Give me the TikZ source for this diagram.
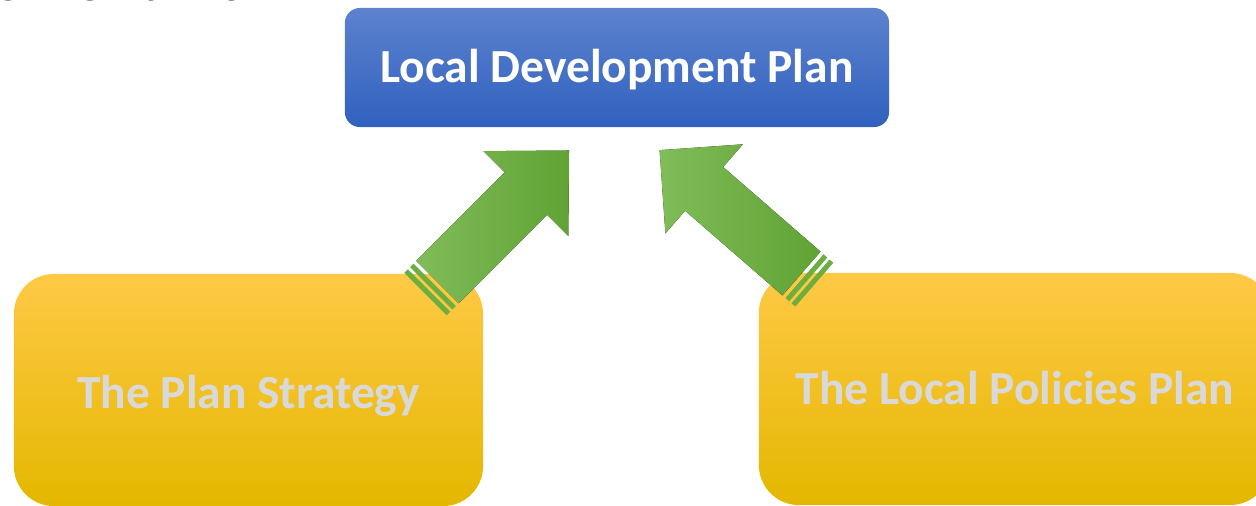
\documentclass[tikz,border=0pt]{standalone}
\usepackage{fontspec}
\setmainfont{Carlito}

\definecolor{ldptop}{RGB}{93,130,207}
\definecolor{ldpbottom}{RGB}{48,97,190}
\definecolor{plantop}{RGB}{255,201,70}
\definecolor{planmid}{RGB}{255,196,0}
\definecolor{planbottom}{RGB}{228,183,0}
\definecolor{arrowlight}{RGB}{128,188,88}
\definecolor{arrowdark}{RGB}{96,163,52}
\definecolor{arrowmid}{RGB}{108,175,64}
\definecolor{labelgrey}{RGB}{217,217,217}

\tikzset{
	ldpbox/.style={rounded corners=0.15cm, top color=ldptop, bottom color=ldpbottom, inner sep=0pt},
	planbox/.style={rounded corners=0.4cm, top color=plantop, middle color=planmid, bottom color=planbottom, minimum height=2.32cm, inner sep=0pt},
	boxtext/.style={anchor=base, inner sep=0pt, font=\bfseries\fontsize{13.5}{16}\selectfont},
	uparrow/.style={left color=arrowlight, right color=arrowdark},
}

\begin{document}
\begin{tikzpicture}[x=0.01cm,y=-0.01cm]
	\useasboundingbox (0,0) rectangle (1256,506);
	\clip (0,0) rectangle (1256,506);

	\node[anchor=base east, inner sep=0pt, font=\fontsize{18}{22}\selectfont] (title) at (285,0) {ement Plan};

	\node[ldpbox, minimum width=5.44cm, minimum height=1.19cm] (ldp) at (617,67.5) {};
	\node[planbox, minimum width=4.69cm] (strategy) at (248.5,390) {};
	\node[planbox, minimum width=5.11cm] (policies) at (1014.5,389) {};

	\node[boxtext, text=white] (ldptext) at (617,83) {Local Development Plan};
	\node[boxtext, text=labelgrey] (strategytext) at (248.5,409) {The Plan Strategy};
	\node[boxtext, text=labelgrey] (policiestext) at (1015,405) {The Local Policies Plan};

	% left arrow
	\begin{scope}[shift={(437.5,282)}, rotate=45]
		\fill[uparrow] (0,-30) -- (125,-30) -- (125,-60) -- (186,0) -- (125,60) -- (125,30) -- (0,30) -- cycle;
		\fill[arrowmid] (-4,-30) rectangle (-9,30);
		\fill[arrowmid] (-12,-30) rectangle (-17,30);
	\end{scope}

	% right arrow
	\begin{scope}[shift={(801.5,273.5)}, rotate=139]
		\fill[uparrow] (0,-29) -- (129,-29) -- (129,-59) -- (188,0) -- (129,59) -- (129,29) -- (0,29) -- cycle;
		\fill[arrowmid] (-4,-29) rectangle (-9,29);
		\fill[arrowmid] (-12,-29) rectangle (-17,29);
	\end{scope}

\end{tikzpicture}
\end{document}
